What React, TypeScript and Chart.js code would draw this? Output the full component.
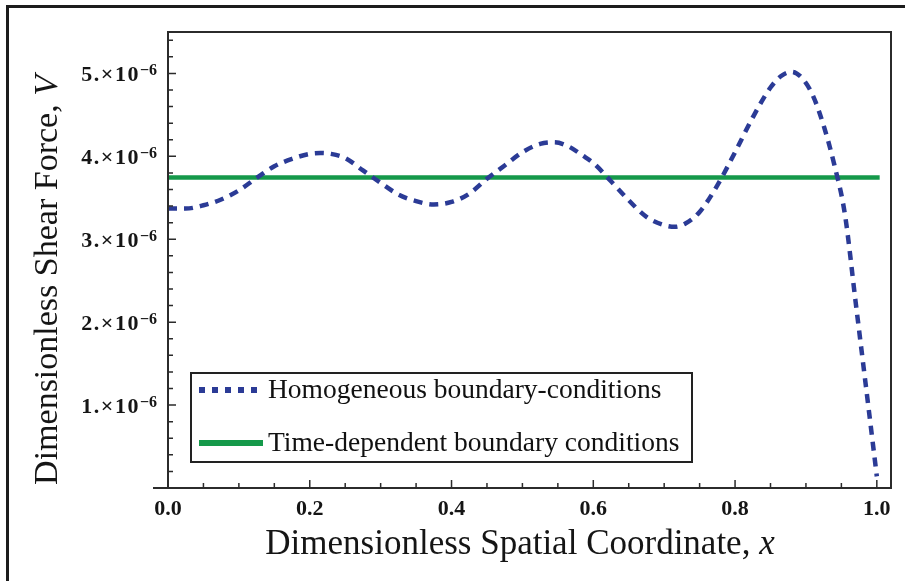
import React, { useEffect, useRef } from "react";
import { Chart, registerables } from "chart.js";

Chart.register(...registerables);

// Dimensionless spatial coordinate x (homogeneous boundary-conditions curve)
const homogeneousX = [
  0, 0.025, 0.05, 0.075, 0.1, 0.125, 0.15, 0.175, 0.2, 0.215, 0.23, 0.25, 0.275,
  0.3, 0.325, 0.35, 0.375, 0.4, 0.425, 0.45, 0.475, 0.5, 0.525, 0.545, 0.565,
  0.585, 0.6, 0.625, 0.65, 0.675, 0.7, 0.715, 0.73, 0.75, 0.775, 0.8, 0.825,
  0.85, 0.865, 0.88, 0.895, 0.91, 0.925, 0.94, 0.955, 0.97, 0.985, 1.0,
];
// Shear force V in units of 1e-6
const homogeneousV = [
  3.37, 3.37, 3.41, 3.48, 3.59, 3.74, 3.88, 3.97, 4.03, 4.04, 4.03, 3.98, 3.83,
  3.68, 3.54, 3.46, 3.42, 3.45, 3.55, 3.73, 3.89, 4.05, 4.15, 4.17, 4.12,
  4.01, 3.92, 3.7, 3.47, 3.27, 3.17, 3.15, 3.19, 3.33, 3.65, 4.05, 4.47,
  4.83, 4.97, 5.02, 4.94, 4.73, 4.37, 3.9, 3.3, 2.25, 1.2, 0.14,
];
const timeDependentX = [0, 1.004];
const timeDependentV = [3.745, 3.745];

const seriesLabels = [
  "Homogeneous boundary-conditions",
  "Time-dependent boundary conditions",
];
const xTickValues = [0, 0.2, 0.4, 0.6, 0.8, 1.0];
const xTickLabels = ["0.0", "0.2", "0.4", "0.6", "0.8", "1.0"];
const yTickValues = [1, 2, 3, 4, 5];
const yTickLabels = ["1.×10", "2.×10", "3.×10", "4.×10", "5.×10"];
const yTickExponent = "−6";
const xTitleParts = ["Dimensionless Spatial Coordinate, ", "x"];
const yTitleParts = ["Dimensionless Shear Force, ", "V"];

const X_TITLE_FONT = "35px 'Liberation Serif'";
const X_TITLE_ITALIC = "italic 35px 'Liberation Serif'";
const Y_TITLE_FONT = "34px 'Liberation Serif'";
const Y_TITLE_ITALIC = "italic 34px 'Liberation Serif'";
const TICK_FONT = "bold 22px 'Liberation Serif'";
const SUP_FONT = "bold 16px 'Liberation Serif'";
const LEGEND_FONT = "27.5px 'Liberation Serif'";

const decorPlugin = {
  id: "decor",
  beforeDraw(chart: any) {
    const { ctx } = chart;
    ctx.save();
    ctx.fillStyle = "#ffffff";
    ctx.fillRect(0, 0, chart.width, chart.height);
    ctx.fillStyle = "#1c1c1c";
    ctx.fillRect(6, 5, chart.width - 6, 3);
    ctx.fillRect(6, 5, 3, chart.height - 5);
    ctx.restore();
  },
  afterDatasetsDraw(chart: any) {
    const { ctx, chartArea: a, scales } = chart;
    const xs = scales.x;
    const ys = scales.y;
    ctx.save();
    // plot frame
    ctx.strokeStyle = "#2b2b2b";
    ctx.lineWidth = 2;
    ctx.strokeRect(a.left, a.top, a.right - a.left, a.bottom - a.top);
    // x axis overshoot to the left
    ctx.beginPath();
    ctx.moveTo(a.left - 15, a.bottom);
    ctx.lineTo(a.left, a.bottom);
    ctx.stroke();
    // inward ticks
    ctx.lineWidth = 1.5;
    ctx.beginPath();
    for (let i = 0; i <= 20; i++) {
      const px = xs.getPixelForValue(i * 0.05);
      const len = i % 4 === 0 ? 8 : 5;
      ctx.moveTo(px, a.bottom);
      ctx.lineTo(px, a.bottom - len);
    }
    for (let i = 1; i <= 27; i++) {
      const py = ys.getPixelForValue(i * 0.2);
      const len = i % 5 === 0 ? 8 : 5;
      ctx.moveTo(a.left, py);
      ctx.lineTo(a.left + len, py);
    }
    ctx.stroke();

    // x tick labels
    ctx.fillStyle = "#151515";
    ctx.font = TICK_FONT;
    ctx.textAlign = "center";
    ctx.textBaseline = "alphabetic";
    xTickValues.forEach((v, i) => {
      ctx.fillText(xTickLabels[i], xs.getPixelForValue(v), a.bottom + 27);
    });

    // y tick labels with superscript exponent
    yTickValues.forEach((v, i) => {
      const py = ys.getPixelForValue(v);
      ctx.textAlign = "right";
      ctx.font = SUP_FONT;
      const supW = ctx.measureText(yTickExponent).width;
      ctx.fillText(yTickExponent, a.left - 11, py + 2);
      ctx.font = TICK_FONT;
      (ctx as any).letterSpacing = "1.5px";
      ctx.fillText(yTickLabels[i], a.left - 11 - supW, py + 8);
      (ctx as any).letterSpacing = "0px";
    });

    // x title
    ctx.textAlign = "left";
    ctx.font = X_TITLE_FONT;
    const xw1 = ctx.measureText(xTitleParts[0]).width;
    ctx.font = X_TITLE_ITALIC;
    const xw2 = ctx.measureText(xTitleParts[1]).width;
    const xStart = 520 - (xw1 + xw2) / 2;
    ctx.font = X_TITLE_FONT;
    ctx.fillText(xTitleParts[0], xStart, 554);
    ctx.font = X_TITLE_ITALIC;
    ctx.fillText(xTitleParts[1], xStart + xw1, 554);

    // y title
    ctx.save();
    ctx.translate(57, 280);
    ctx.rotate(-Math.PI / 2);
    ctx.font = Y_TITLE_FONT;
    const yw1 = ctx.measureText(yTitleParts[0]).width;
    ctx.font = Y_TITLE_ITALIC;
    const yw2 = ctx.measureText(yTitleParts[1]).width;
    const yStart = -(yw1 + yw2) / 2;
    ctx.font = Y_TITLE_FONT;
    ctx.fillText(yTitleParts[0], yStart, 0);
    ctx.font = Y_TITLE_ITALIC;
    ctx.fillText(yTitleParts[1], yStart + yw1, 0);
    ctx.restore();

    // legend box
    const bx = 191, by = 373, bw = 501, bh = 89;
    ctx.fillStyle = "#ffffff";
    ctx.fillRect(bx, by, bw, bh);
    ctx.strokeStyle = "#222222";
    ctx.lineWidth = 2;
    ctx.strokeRect(bx, by, bw, bh);
    const rows = [390, 443];
    chart.data.datasets.forEach((ds: any, i: number) => {
      const y = rows[i];
      ctx.save();
      ctx.strokeStyle = ds.borderColor;
      ctx.lineWidth = 6;
      ctx.setLineDash(ds.borderDash && ds.borderDash.length ? [6, 7] : []);
      ctx.beginPath();
      ctx.moveTo(199, y);
      ctx.lineTo(263, y);
      ctx.stroke();
      ctx.restore();
      ctx.fillStyle = "#111111";
      ctx.font = LEGEND_FONT;
      ctx.textAlign = "left";
      ctx.textBaseline = "middle";
      ctx.fillText(ds.label, 268, y + 1);
    });
    ctx.restore();
  },
};

export default function App() {
  const canvasRef = useRef<HTMLCanvasElement | null>(null);

  useEffect(() => {
    const canvas = canvasRef.current;
    if (!canvas) return;
    const chart = new Chart(canvas, {
      type: "line",
      data: {
        datasets: [
          {
            label: seriesLabels[0],
            data: homogeneousX.map((x, i) => ({ x, y: homogeneousV[i] })),
            borderColor: "#2b3b96",
            borderWidth: 4.5,
            borderDash: [9, 7],
            pointRadius: 0,
            cubicInterpolationMode: "monotone",
            fill: false,
          },
          {
            label: seriesLabels[1],
            data: timeDependentX.map((x, i) => ({ x, y: timeDependentV[i] })),
            borderColor: "#15994a",
            borderWidth: 4.5,
            pointRadius: 0,
            fill: false,
          },
        ],
      },
      options: {
        animation: false,
        responsive: false,
        devicePixelRatio: 1,
        layout: { padding: { top: 32, right: 14, left: 0, bottom: 0 } },
        plugins: {
          legend: { display: false },
          tooltip: { enabled: false },
        },
        scales: {
          x: {
            type: "linear",
            min: 0,
            max: 1.02,
            grid: { display: false },
            border: { display: false },
            ticks: { display: false },
            afterFit: (s: any) => {
              s.height = 93;
            },
          },
          y: {
            type: "linear",
            min: 0,
            max: 5.5,
            grid: { display: false },
            border: { display: false },
            ticks: { display: false },
            afterFit: (s: any) => {
              s.width = 168;
            },
          },
        },
      },
      plugins: [decorPlugin],
    } as any);
    return () => chart.destroy();
  }, []);

  return (
    <div style={{ position: "absolute", left: 0, top: 0, width: 905, height: 581 }}>
      <canvas ref={canvasRef} width={905} height={581} style={{ width: 905, height: 581 }} />
    </div>
  );
}
